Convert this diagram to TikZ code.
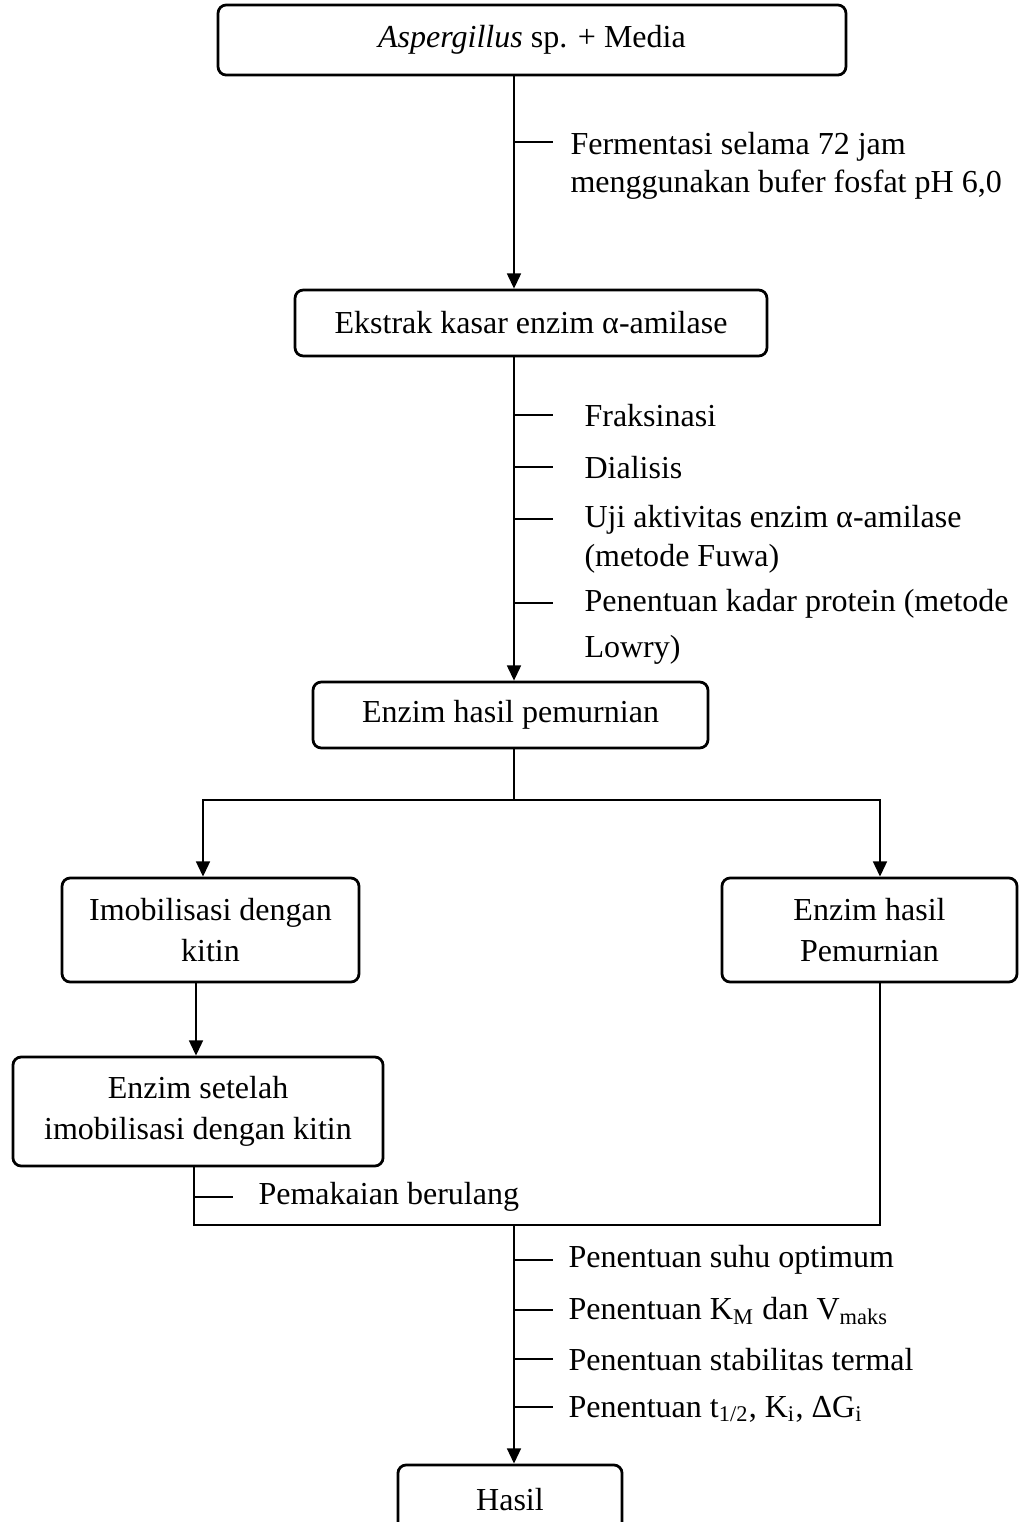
\documentclass[tikz,border=0pt]{standalone}
\usepackage{fontspec}
\setmainfont{Liberation Serif}
\usepackage{tikz}
\usetikzlibrary{arrows.meta,calc}

\tikzset{
  box/.style={draw, line width=1pt, rounded corners=3pt, align=center, inner sep=0pt},
  line/.style={line width=0.8pt},
  arr/.style={line, -{Triangle[length=5.5pt,width=5pt]}},
  lbl/.style={anchor=west, align=left, inner sep=0pt},
}

\begin{document}
\begin{tikzpicture}[x=0.3623pt, y=-0.3623pt, font=\fontsize{11.6}{14}\selectfont]
    \useasboundingbox (0,0) rectangle (1019,1522);

    % Trunks
    \coordinate (t) at (514,0);
    \coordinate (xl) at (203,0);
    \coordinate (xr) at (880,0);
    \coordinate (xa) at (196,0);
    \coordinate (xb) at (194,0);

    % Boxes
    \node[box, minimum width=227.5pt, minimum height=25.4pt] (b1) at (532,40) {\textit{Aspergillus} sp. + Media};
    \node[box, minimum width=171pt, minimum height=23.9pt] (b2) at (531,323) {Ekstrak kasar enzim α-amilase};
    \node[box, minimum width=143.1pt, minimum height=23.9pt] (b3) at (510.5,715) {Enzim hasil pemurnian};
    \node[box, minimum width=107.6pt, minimum height=37.7pt] (b4) at (210.5,930) {Imobilisasi dengan\\[1pt]kitin};
    \node[box, minimum width=106.9pt, minimum height=37.7pt] (b5) at (869.5,930) {Enzim hasil\\[1pt]Pemurnian};
    \node[box, minimum width=134.1pt, minimum height=39.5pt] (b6) at (198,1111.5) {Enzim setelah\\[1pt]imobilisasi dengan kitin};
    \node[box, minimum width=81.2pt, minimum height=25.4pt] (b7) at (510,1500) {Hasil};

    % Steps
    \node[lbl] (s1) at (570,166) {Fermentasi selama 72 jam\\menggunakan bufer fosfat pH 6,0};
    \node[lbl] (s2) at (584,416) {Fraksinasi};
    \node[lbl] (s3) at (584,468) {Dialisis};
    \node[lbl] (s4) at (584,539) {Uji aktivitas enzim α-amilase\\(metode Fuwa)};
    \node[lbl] (s5) at (584,627) {Penentuan kadar protein (metode\\[2.5pt]Lowry)};
    \node[lbl] (s6) at (258,1197) {Pemakaian berulang};
    \node[lbl] (s7) at (568,1260) {Penentuan suhu optimum};
    \node[lbl] (s8) at (568,1311) {Penentuan K\textsubscript{M} dan V\textsubscript{maks}};
    \node[lbl] (s9) at (568,1360) {Penentuan stabilitas termal};
    \node[lbl] (s10) at (568,1409) {Penentuan t\textsubscript{1/2}, K\textsubscript{i}, ΔG\textsubscript{i}};

    % Arrows
    \draw[arr] (b1.south -| t) -- (b2.north -| t);
    \draw[arr] (b2.south -| t) -- (b3.north -| t);
    \coordinate (sp) at (514,800);
    \draw[line width=0.6pt] (b3.south -| t) -- (sp);
    \draw[arr] (sp) -| (b4.north -| xl);
    \draw[arr] (sp) -| (b5.north -| xr);
    \draw[arr] (b4.south -| xa) -- (b6.north -| xa);
    \coordinate (jn) at (514,1225);
    \draw[line] (b6.south -| xb) |- (jn);
    \draw[line] (b5.south -| xr) |- (jn);
    \draw[arr] (jn) -- (b7.north -| t);

    % Ticks
    \draw[line] (514,142) -- (553,142);
    \foreach \y in {415,467,519,603,1260,1310,1359,1407}
        \draw[line] (514,\y) -- (553,\y);
    \draw[line] (194,1197) -- (233,1197);
\end{tikzpicture}
\end{document}
